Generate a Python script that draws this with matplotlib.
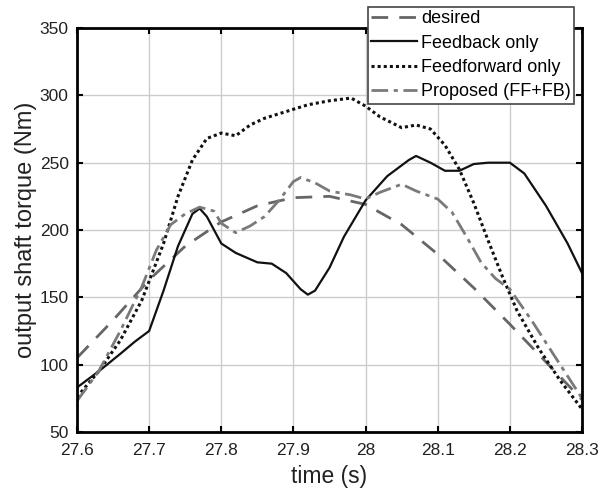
import numpy as np
import matplotlib.pyplot as plt

plt.rcParams['font.family'] = ['Liberation Sans', 'DejaVu Sans']

# values
t_des = [27.60, 27.65, 27.70, 27.75, 27.80, 27.85, 27.90, 27.95, 28.00, 28.05, 28.10, 28.15, 28.20, 28.25, 28.30]
y_des = [105, 133, 163, 188, 206, 218, 224, 225, 219, 204, 182, 157, 130, 102, 74]

t_fb = [27.60, 27.63, 27.66, 27.68, 27.70, 27.72, 27.74, 27.76, 27.77, 27.78, 27.80, 27.82, 27.85,
        27.87, 27.89, 27.91, 27.92, 27.93, 27.95, 27.97, 28.00, 28.03, 28.06, 28.07, 28.09, 28.11,
        28.13, 28.15, 28.17, 28.20, 28.22, 28.25, 28.28, 28.30]
y_fb = [83, 95, 108, 117, 125, 155, 188, 212, 216, 210, 190, 183, 176, 175, 168, 156, 152, 155, 172,
        195, 222, 240, 252, 255, 250, 244, 244, 249, 250, 250, 242, 218, 190, 168]

t_ff = [27.60, 27.63, 27.66, 27.69, 27.72, 27.74, 27.76, 27.78, 27.80, 27.82, 27.84, 27.86, 27.89,
        27.92, 27.95, 27.98, 28.00, 28.02, 28.05, 28.07, 28.09, 28.11, 28.13, 28.15, 28.17, 28.19,
        28.21, 28.24, 28.27, 28.30]
y_ff = [76, 95, 118, 148, 190, 225, 252, 268, 272, 270, 278, 283, 288, 293, 296, 298, 292, 284, 276,
        278, 275, 263, 245, 220, 192, 165, 140, 112, 88, 67]

t_pr = [27.60, 27.63, 27.66, 27.69, 27.71, 27.73, 27.75, 27.77, 27.79, 27.80, 27.82, 27.84, 27.86,
        27.88, 27.90, 27.91, 27.93, 27.95, 27.98, 28.00, 28.02, 28.05, 28.07, 28.10, 28.12, 28.14,
        28.16, 28.18, 28.20, 28.23, 28.26, 28.30]
y_pr = [73, 95, 125, 158, 185, 204, 212, 217, 214, 205, 198, 203, 210, 222, 236, 239, 235, 229, 226,
        223, 228, 234, 229, 223, 213, 195, 176, 164, 156, 133, 108, 75]

fig = plt.figure(figsize=(6.09, 4.92), dpi=100)
ax = fig.add_axes([0.1264, 0.122, 0.8293, 0.821])

ax.plot(t_des, y_des, color='#666666', linestyle=(0, (6, 4)), lw=2, label='desired')
ax.plot(t_fb, y_fb, color='#111111', linestyle='-', lw=1.6, label='Feedback only')
ax.plot(t_ff, y_ff, color='#111111', linestyle=(0, (1, 1)), lw=2.2, label='Feedforward only')
ax.plot(t_pr, y_pr, color='#7a7a7a', linestyle=(0, (6, 2, 1.5, 2)), lw=2, label='Proposed (FF+FB)')

ax.set_xlim(27.6, 28.3)
ax.set_ylim(50, 350)
ax.set_xticks(np.arange(27.6, 28.31, 0.1))
ax.set_xticklabels(['27.6', '27.7', '27.8', '27.9', '28', '28.1', '28.2', '28.3'])
ax.set_yticks(range(50, 351, 50))
ax.tick_params(direction='in', top=True, right=True, labelsize=12.5, width=1.5, length=4, pad=6)
ax.tick_params(axis='x', pad=8)
for lab in ax.get_xticklabels() + ax.get_yticklabels():
    lab.set_color('#222222')
ax.grid(True, color='#cccccc', lw=1)
for s in ax.spines.values():
    s.set_linewidth(2)

ax.set_xlabel('time (s)', fontsize=16.5, labelpad=5, color='#222222')
ax.set_ylabel('output shaft torque (Nm)', fontsize=17, labelpad=2, color='#222222')

leg = fig.legend(loc='upper left', bbox_to_anchor=(0.604, 0.986), fontsize=13,
                 fancybox=False, edgecolor='#444444', framealpha=1, handlelength=2.55,
                 handletextpad=0.2, borderpad=0.2, labelspacing=0.4, borderaxespad=0)
leg.get_frame().set_linewidth(1.2)

fig.savefig('out.png', dpi=100)
